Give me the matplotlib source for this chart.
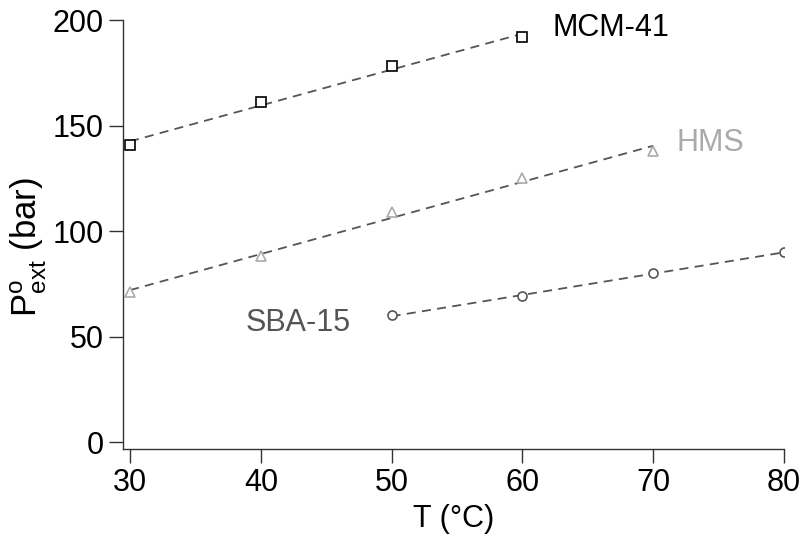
import numpy as np
import matplotlib
matplotlib.use("Agg")
import matplotlib.pyplot as plt

plt.rcParams['font.family'] = ['Liberation Sans', 'DejaVu Sans']
plt.rcParams['mathtext.fontset'] = 'custom'
plt.rcParams['mathtext.rm'] = 'Liberation Sans'
plt.rcParams['mathtext.it'] = 'Liberation Sans'

# data
t_mcm = [30, 40, 50, 60]
p_mcm = [141, 161, 178, 192]
t_hms = [30, 40, 50, 60, 70]
p_hms = [71, 88, 109, 125, 138]
t_sba = [50, 60, 70, 80]
p_sba = [60, 69, 80, 90]

series = [
    (t_mcm, p_mcm, 's', 'black', 'MCM-41', (62.3, 196)),
    (t_hms, p_hms, '^', '#aaaaaa', 'HMS', (71.8, 141.5)),
    (t_sba, p_sba, 'o', '#555555', 'SBA-15', (38.8, 56.5)),
]

fig = plt.figure(figsize=(8.07, 5.44), dpi=100)
ax = fig.add_axes([123/807, 1-449/544, (784-123)/807, (449-20)/544])

for t, p, mk, col, name, (lx, ly) in series:
    t = np.array(t, float)
    p = np.array(p, float)
    k, b = np.polyfit(t, p, 1)
    ax.plot(t, k*t + b, ls=(0, (5, 3.5)), color='#555555', lw=1.3, zorder=1)
    ax.plot(t, p, ls='none', marker=mk, mfc='white', mec=col, mew=1.2,
            ms=6.5 if mk == 'o' else 7, zorder=2)
    ax.text(lx, ly, name, color=col, fontsize=22, va='center', ha='left')

ax.set_xlim(29.46, 80)
ax.set_ylim(-3.3, 200)
ax.set_xticks([30, 40, 50, 60, 70, 80])
ax.set_yticks([0, 50, 100, 150, 200])
ax.spines['top'].set_visible(False)
ax.spines['right'].set_visible(False)
for s in ['left', 'bottom']:
    ax.spines[s].set_color('#333333')
    ax.spines[s].set_linewidth(1.0)
ax.tick_params(direction='out', length=10, width=1.0, color='#333333', labelsize=22, pad=4)
ax.set_xlabel('T (°C)', fontsize=22, labelpad=4)
ax.set_ylabel(r'P$_{\mathrm{ext}}^{\mathrm{o}}$ (bar)', fontsize=25)
ax.yaxis.set_label_coords(-0.112, 0.47)

fig.savefig('out.png', dpi=100)
